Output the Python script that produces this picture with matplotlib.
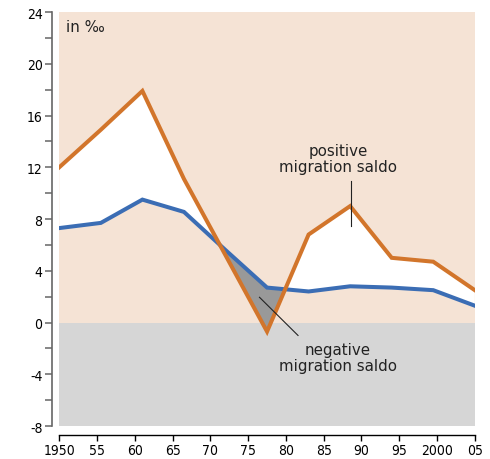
import numpy as np
import matplotlib
matplotlib.use("Agg")
import matplotlib.pyplot as plt
from matplotlib import font_manager

# Jahre (Stützpunkte im Abstand von 5.5 Jahren)
years = [1950, 1955.5, 1961, 1966.5, 1972, 1977.5, 1983, 1988.5, 1994, 1999.5, 2005]
# obere Linie (orange)
orange = [12.0, 14.9, 17.9, 11.1, 5.2, -0.7, 6.8, 9.0, 5.0, 4.7, 2.5]
# untere Linie (blau)
blue = [7.3, 7.7, 9.5, 8.55, 5.6, 2.7, 2.4, 2.8, 2.7, 2.5, 1.3]

xticks = [1950, 1955, 1960, 1965, 1970, 1975, 1980, 1985, 1990, 1995, 2000, 2005]
xlabels = ["1950", "55", "60", "65", "70", "75", "80", "85", "90", "95", "2000", "05"]
yticks = [-8, -4, 0, 4, 8, 12, 16, 20, 24]

c_orange = "#d2752b"
c_blue = "#3b6db4"
c_peach = "#f5e3d5"
c_grey = "#d6d6d6"
c_dark = "#999999"

# schmale Schrift fuer die Achsenbeschriftung
names = set(f.name for f in font_manager.fontManager.ttflist)
if "Liberation Sans Narrow" in names:
    tickfont = {"family": ["Liberation Sans Narrow", "DejaVu Sans"], "size": 12}
else:
    tickfont = {"family": "DejaVu Sans", "size": 10, "stretch": "condensed"}

x = np.array(years)
o = np.array(orange)
b = np.array(blue)

fig = plt.figure(figsize=(4.9, 4.6), dpi=100)
ax = fig.add_axes([0.121, 0.0717, 0.848, 0.9])

ax.axhspan(0, 24, color=c_peach, lw=0, zorder=0)
ax.axhspan(-8, 0, color=c_grey, lw=0, zorder=0)

ax.fill_between(x, o, b, where=o >= b, interpolate=True, color="white", lw=0, zorder=1)
ax.fill_between(x, o, b, where=o < b, interpolate=True, color=c_dark, lw=0, zorder=1)

ax.plot(x, b, color=c_blue, lw=2.9, zorder=3, solid_joinstyle="miter")
ax.plot(x, o, color=c_orange, lw=2.9, zorder=3, solid_joinstyle="miter")

ax.set_xlim(1950, 2005)
ax.set_ylim(-8, 24)

for s in ["top", "right"]:
    ax.spines[s].set_visible(False)
ax.spines["left"].set_position(("outward", 5))
ax.spines["bottom"].set_position(("outward", 6.5))
ax.spines["left"].set_color("#666666")
ax.spines["left"].set_linewidth(1.2)
ax.spines["bottom"].set_linewidth(1.0)

ax.set_xticks(xticks)
ax.set_xticklabels(xlabels, fontdict=tickfont)
ax.set_yticks(yticks)
ax.set_yticklabels([str(v) for v in yticks], fontdict=tickfont)
ax.set_yticks(np.arange(-6, 24, 4), minor=True)
ax.tick_params(axis="y", which="both", length=5, width=1.1, color="#666666", pad=2)
ax.tick_params(axis="x", length=4.5, width=1.0, pad=1.5)

txtfont = dict(family="DejaVu Sans", size=10.8, color="#222222")
ax.text(1950.9, 22.9, "in ‰", ha="left", va="center", **txtfont)
ax.text(1986.9, 12.7, "positive\nmigration saldo", ha="center", va="center",
        linespacing=1.05, **txtfont)
ax.plot([1988.6, 1988.6], [10.9, 7.45], color="#222222", lw=0.8, zorder=4)
ax.text(1986.9, -2.7, "negative\nmigration saldo", ha="center", va="center",
        linespacing=1.05, **txtfont)
ax.plot([1976.5, 1981.6], [1.95, -1.0], color="#222222", lw=0.8, zorder=4)

fig.savefig("out.png", dpi=100)
